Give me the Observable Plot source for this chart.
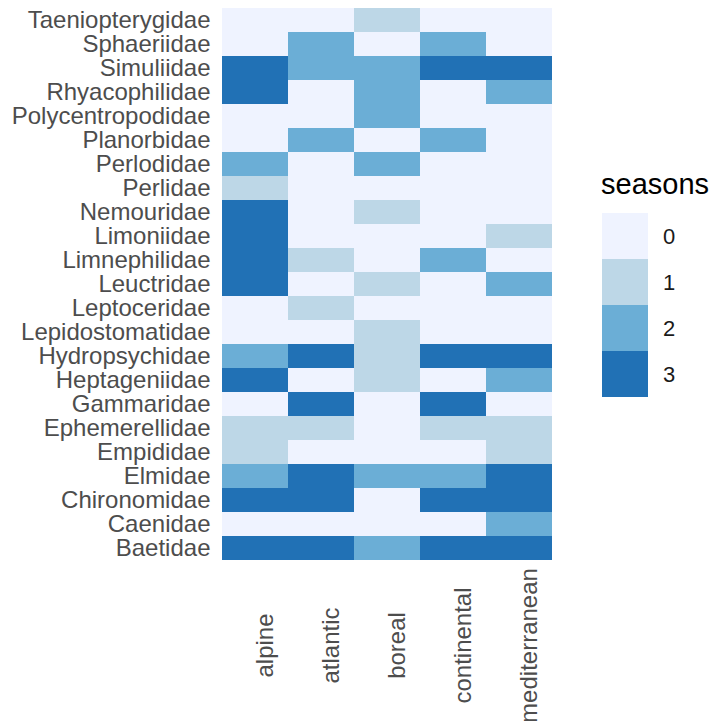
<!DOCTYPE html>
<html>
<head>
<meta charset="utf-8">
<script src="https://cdn.jsdelivr.net/npm/d3@7"></script>
<script src="https://cdn.jsdelivr.net/npm/@observablehq/plot@0.6"></script>
<style>
  html, body { margin: 0; padding: 0; background: #fff; }
  #chart svg { display: block; }
</style>
</head>
<body>
<div id="chart"></div>
<script>
const regions = ["alpine", "atlantic", "boreal", "continental", "mediterranean"];
const families = [
  "Taeniopterygidae", "Sphaeriidae", "Simuliidae", "Rhyacophilidae", "Polycentropodidae",
  "Planorbidae", "Perlodidae", "Perlidae", "Nemouridae", "Limoniidae", "Limnephilidae",
  "Leuctridae", "Leptoceridae", "Lepidostomatidae", "Hydropsychidae", "Heptageniidae",
  "Gammaridae", "Ephemerellidae", "Empididae", "Elmidae", "Chironomidae", "Caenidae", "Baetidae"
];
// seasons per family, in region order: alpine, atlantic, boreal, continental, mediterranean
const seasons = [
  [0,0,1,0,0], // Taeniopterygidae
  [0,2,0,2,0], // Sphaeriidae
  [3,2,2,3,3], // Simuliidae
  [3,0,2,0,2], // Rhyacophilidae
  [0,0,2,0,0], // Polycentropodidae
  [0,2,0,2,0], // Planorbidae
  [2,0,2,0,0], // Perlodidae
  [1,0,0,0,0], // Perlidae
  [3,0,1,0,0], // Nemouridae
  [3,0,0,0,1], // Limoniidae
  [3,1,0,2,0], // Limnephilidae
  [3,0,1,0,2], // Leuctridae
  [0,1,0,0,0], // Leptoceridae
  [0,0,1,0,0], // Lepidostomatidae
  [2,3,1,3,3], // Hydropsychidae
  [3,0,1,0,2], // Heptageniidae
  [0,3,0,3,0], // Gammaridae
  [1,1,0,1,1], // Ephemerellidae
  [1,0,0,0,1], // Empididae
  [2,3,2,2,3], // Elmidae
  [3,3,0,3,3], // Chironomidae
  [0,0,0,0,2], // Caenidae
  [3,3,2,3,3]  // Baetidae
];
const levels = [0, 1, 2, 3];
const palette = ["#eff3ff", "#bdd7e7", "#6baed6", "#2171b5"];

const cells = [];
families.forEach((f, i) => regions.forEach((r, j) => cells.push({family: f, region: r, value: seasons[i][j]})));

const font = "'Liberation Sans', Arial, sans-serif";

const chart = Plot.plot({
  width: 714,
  height: 721,
  marginLeft: 221,
  marginRight: 161,
  marginTop: 8,
  marginBottom: 161,
  style: {fontFamily: font, background: "#fff"},
  x: {domain: regions, padding: 0, label: null},
  y: {domain: families, padding: 0, label: null},
  color: {type: "ordinal", domain: levels, range: palette},
  marks: [
    Plot.cell(cells, {x: "region", y: "family", fill: "value"}),
    Plot.axisY({tickSize: 0, tickPadding: 11, fontSize: 24, fill: "#4d4d4d", label: null}),
    Plot.axisX({tickSize: 0, tickPadding: 0, tickRotate: -90, textAnchor: "middle", lineAnchor: "top",
                dy: 85, dx: 0, fontSize: 24, fill: "#4d4d4d", label: null})
  ]
});

document.getElementById("chart").appendChild(chart);

// legend drawn into the same SVG using the plot's colour scale
const color = chart.scale("color");
const svg = d3.select(chart);
const lg = svg.append("g").attr("font-family", font).attr("text-anchor", "start");
lg.append("text")
  .attr("x", 601).attr("y", 194)
  .attr("font-size", 29).attr("fill", "#000")
  .text("seasons");
const swH = 46, legTop = 213;
levels.forEach((v, i) => {
  lg.append("rect")
    .attr("x", 602).attr("y", legTop + i * swH)
    .attr("width", 46).attr("height", swH)
    .attr("fill", color.apply(v));
  lg.append("text")
    .attr("x", 663).attr("y", legTop + i * swH + swH / 2)
    .attr("dy", "0.36em")
    .attr("font-size", 22).attr("fill", "#1a1a1a")
    .text(String(v));
});
</script>
</body>
</html>
